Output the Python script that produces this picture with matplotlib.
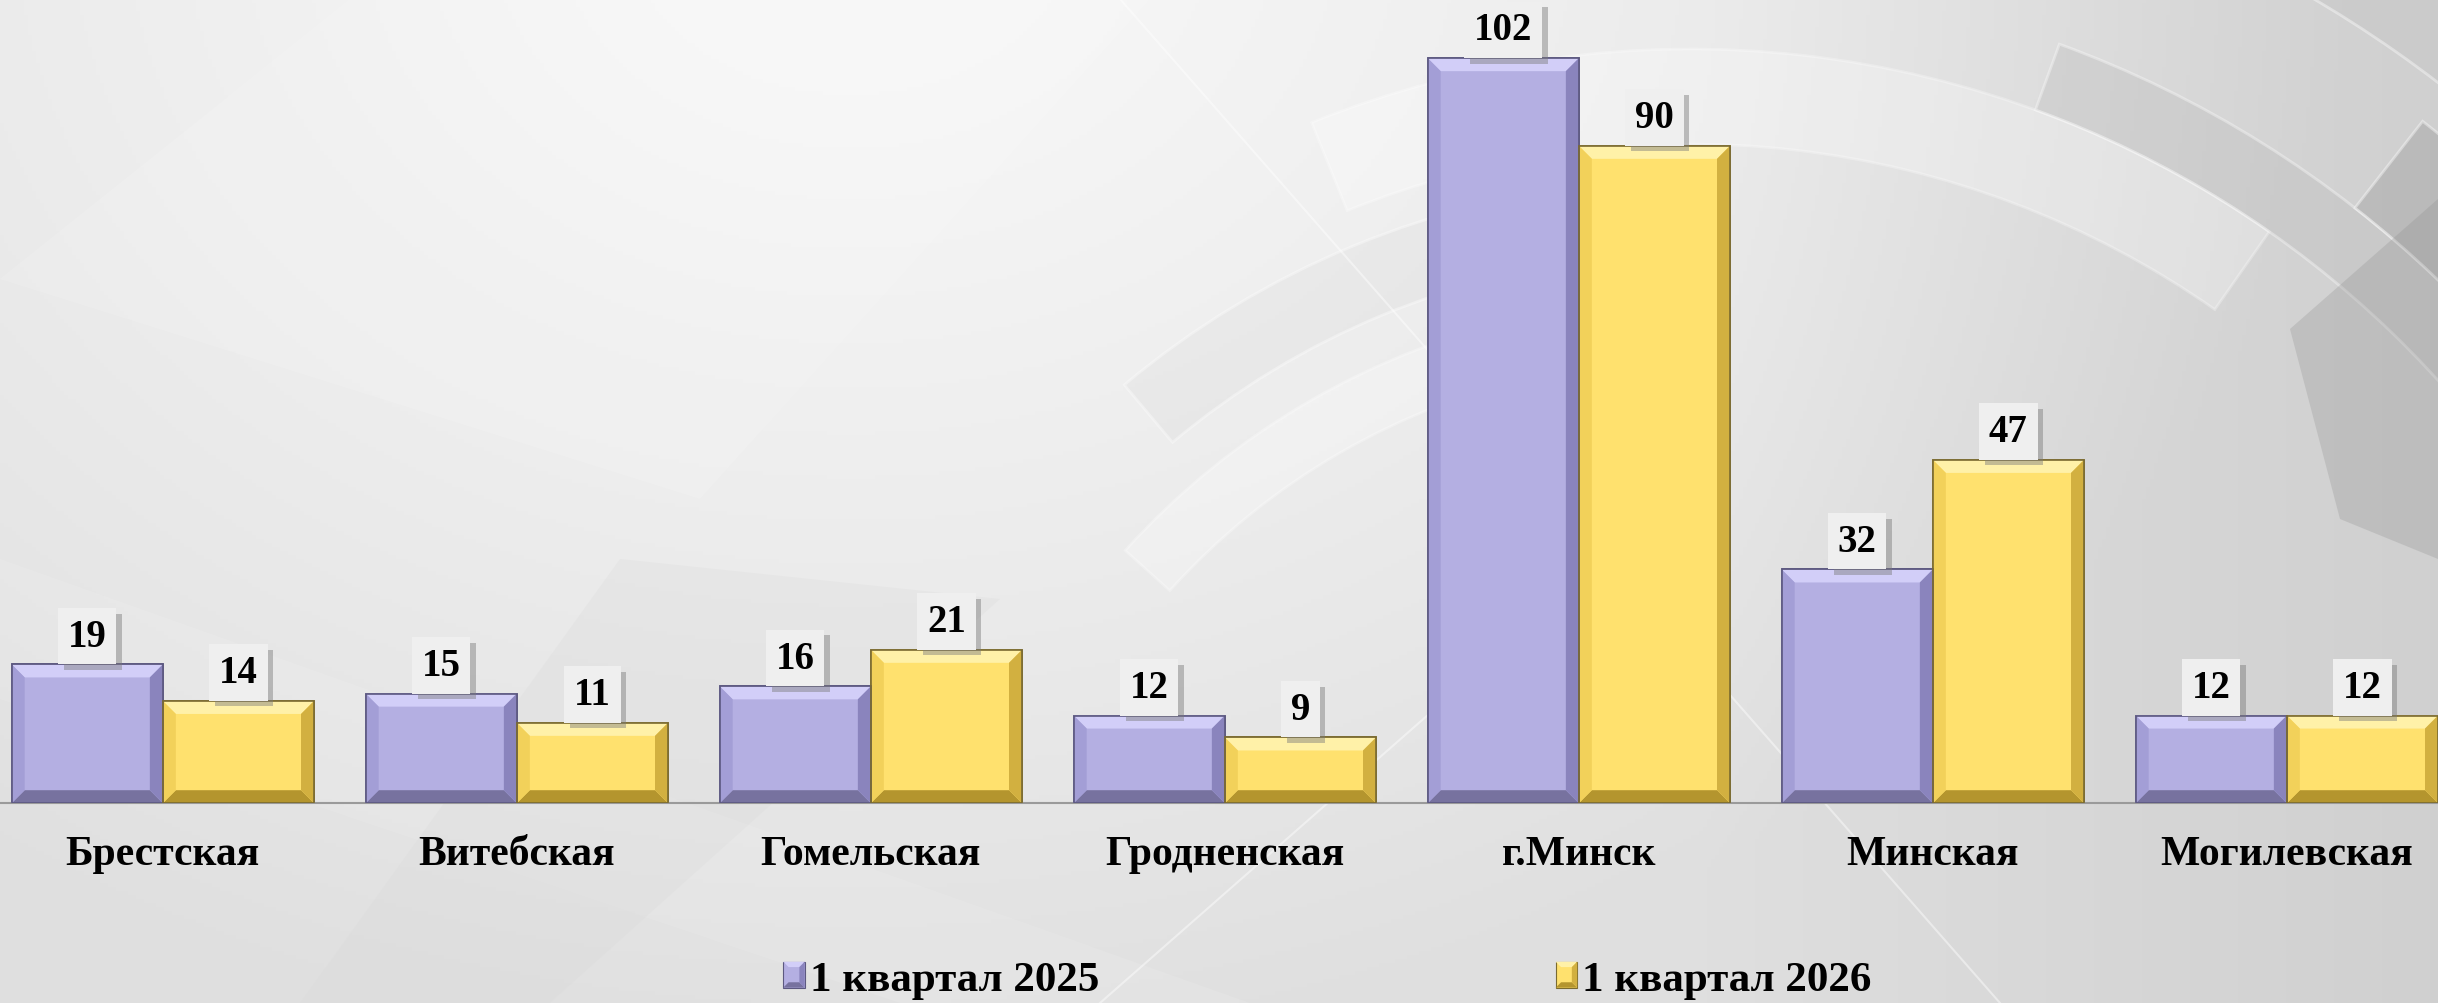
import numpy as np
import matplotlib
matplotlib.use('Agg')
import matplotlib.pyplot as plt
import matplotlib.patheffects as pe
from matplotlib.patches import Polygon, Rectangle, Wedge
from matplotlib.legend_handler import HandlerBase

REGIONS = ['Брестская', 'Витебская', 'Гомельская', 'Гродненская',
           'г.Минск', 'Минская', 'Могилевская']
Q1_2025 = [19, 15, 16, 12, 102, 32, 12]
Q1_2026 = [14, 11, 21, 9, 90, 47, 12]
SERIES = ['1 квартал 2025', '1 квартал 2026']

PURPLE = dict(face='#b4afe2', top='#d2cef8', left='#a39ed6', right='#8a84bd',
              bottom='#77729f', edge='#5c5880')
YELLOW = dict(face='#ffe16e', top='#fff1a8', left='#f2d15a', right='#d2b040',
              bottom='#b4952e', edge='#7a6a30')

plt.rcParams['font.family'] = ['Liberation Serif', 'DejaVu Serif']
plt.rcParams['font.weight'] = 'bold'

W, H = 2438, 1004
fig = plt.figure(figsize=(W / 100, H / 100), dpi=100)

# background, drawn in pixel units (y grows downwards): grey gradient + pale shapes
bg = fig.add_axes([0, 0, 1, 1], zorder=0)
bg.set_axis_off()
yy, xx = np.mgrid[0:H:4, 0:W:4]
d = np.hypot(xx - 850, (yy + 80) * 1.3)
val = 0.975 - 0.10 * np.clip(d / 1500, 0, 1) ** 1.2 \
      - 0.06 * np.clip((xx - 1700) / 740, 0, 1)
bg.imshow(np.dstack([val] * 3).clip(0, 1), extent=[0, W, H, 0],
          aspect='auto', origin='upper')
bg.fill([0, 350, 1150, 700], [280, 0, 0, 500], color='white', alpha=0.12, lw=0)
bg.fill([0, 0, 900, 1250], [560, 700, 1004, 1004], color='white', alpha=0.10, lw=0)
bg.fill([300, 550, 1000, 620], [1004, 1004, 600, 560], color='#d8d8d8', alpha=0.25, lw=0)
cx, cy = 1690, 1060
for r, w, t1, t2, fc, a in [
    (1010, 95, 55, 112, 'white', 0.28),
    (880, 75, 95, 130, '#dedede', 0.35),
    (1080, 70, 22, 70, '#bcbcbc', 0.35),
    (1190, 110, 8, 52, '#9a9a9a', 0.40),
    (1320, 90, 35, 75, '#c4c4c4', 0.40),
    (760, 60, 102, 138, 'white', 0.28),
]:
    bg.add_patch(Wedge((cx, cy), r, -t2, -t1, width=w, fc=fc, ec='white',
                       lw=2, alpha=a))
bg.fill([2290, 2438, 2438, 2340], [330, 200, 560, 520], color='#8e8e8e', alpha=0.28, lw=0)
bg.plot([1120, 2000], [0, 1004], color='white', lw=1.5, alpha=0.45)
bg.plot([1560, 1100], [600, 1004], color='white', lw=1.5, alpha=0.45)
bg.set_xlim(0, W)
bg.set_ylim(H, 0)

ax = fig.add_axes([0, 0.199, 1, 0.801], zorder=1)
ax.patch.set_alpha(0)

x = np.arange(len(REGIONS))
width = 0.427
xmin, xmax = -0.46, 6.427
ymax = 110.1
ax.set_xlim(xmin, xmax)
ax.set_ylim(0, ymax)

pos = ax.get_position()
px_x = pos.width * W / (xmax - xmin)
px_y = pos.height * H / ymax
bev = 13
dx, dy = bev / px_x, bev / px_y
shadow = [pe.SimplePatchShadow(offset=(4, -4), shadow_rgbFace='#7a7a7a', alpha=0.45),
          pe.Normal()]


def bevel_bars(xs, vals, pal):
    bars = ax.bar(xs, vals, width, color=pal['face'], edgecolor=pal['edge'],
                  linewidth=1.2, zorder=2)
    for b in bars:
        x0, x1 = b.get_x(), b.get_x() + b.get_width()
        y0, y1 = 0, b.get_height()
        d = min(dy, y1 / 3)
        for pts, c in [
            ([(x0, y1), (x1, y1), (x1 - dx, y1 - d), (x0 + dx, y1 - d)], pal['top']),
            ([(x0, y0), (x1, y0), (x1 - dx, y0 + d), (x0 + dx, y0 + d)], pal['bottom']),
            ([(x0, y0), (x0, y1), (x0 + dx, y1 - d), (x0 + dx, y0 + d)], pal['left']),
            ([(x1, y0), (x1, y1), (x1 - dx, y1 - d), (x1 - dx, y0 + d)], pal['right']),
        ]:
            ax.add_patch(Polygon(pts, closed=True, fc=c, ec='none', zorder=3))
        ax.add_patch(Rectangle((x0, y0), x1 - x0, y1, fc='none', ec=pal['edge'],
                               lw=1.2, zorder=4))
    for b, v in zip(bars, vals):
        t = ax.annotate(str(v), (b.get_x() + b.get_width() / 2, v), xytext=(0, 7),
                        textcoords='offset points', ha='center', va='bottom',
                        fontsize=28, fontweight='bold', color='black', zorder=6,
                        bbox=dict(boxstyle='square,pad=0.25', fc='#efefef', ec='none'))
        t.get_bbox_patch().set_path_effects(shadow)
    return bars


bevel_bars(x - width / 2, Q1_2025, PURPLE)
bevel_bars(x + width / 2, Q1_2026, YELLOW)

for s in ['top', 'right', 'left']:
    ax.spines[s].set_visible(False)
ax.spines['bottom'].set_color('#9a9a9a')
ax.spines['bottom'].set_linewidth(1.5)
ax.set_yticks([])
ax.set_xticks(x)
ax.set_xticklabels(REGIONS, fontsize=30, fontweight='bold')
ax.tick_params(axis='x', length=0, pad=23)


class BevelHandler(HandlerBase):
    def __init__(self, pal):
        super().__init__()
        self.pal = pal

    def create_artists(self, legend, orig_handle, xdescent, ydescent, width,
                       height, fontsize, trans):
        p = self.pal
        x0, y0, x1, y1 = -xdescent, -ydescent, -xdescent + width, -ydescent + height
        b = width * 0.25
        arts = [Rectangle((x0, y0), width, height, fc=p['face'], ec=p['edge'], lw=0.8)]
        for pts, c in [
            ([(x0, y1), (x1, y1), (x1 - b, y1 - b), (x0 + b, y1 - b)], p['top']),
            ([(x0, y0), (x1, y0), (x1 - b, y0 + b), (x0 + b, y0 + b)], p['bottom']),
            ([(x1, y0), (x1, y1), (x1 - b, y1 - b), (x1 - b, y0 + b)], p['right']),
        ]:
            arts.append(Polygon(pts, closed=True, fc=c, ec='none'))
        for a in arts:
            a.set_transform(trans)
        return arts


h1 = Rectangle((0, 0), 1, 1)
h2 = Rectangle((0, 0), 1, 1)
fig.legend([h1, h2], SERIES, loc='center', bbox_to_anchor=(0.5445, 0.023),
           ncol=2, frameon=False, prop=dict(size=31, weight='bold'),
           handlelength=0.5, handleheight=0.55, handletextpad=0.12,
           columnspacing=10.6,
           handler_map={h1: BevelHandler(PURPLE), h2: BevelHandler(YELLOW)})

fig.savefig('out.png', dpi=100)
